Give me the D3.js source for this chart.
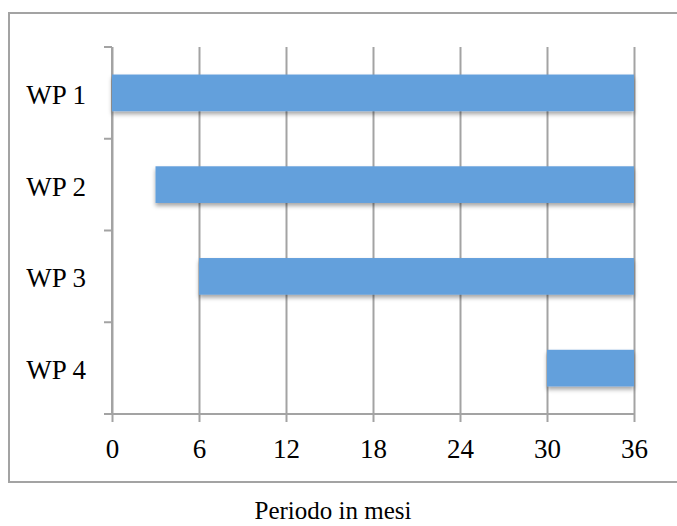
<!DOCTYPE html>
<html>
<head>
<meta charset="utf-8">
<script src="https://cdn.jsdelivr.net/npm/d3@7/dist/d3.min.js"></script>
<style>
  html, body { margin: 0; padding: 0; background: #fff; }
  svg { display: block; }
  text { font-family: "Liberation Serif", "Times New Roman", serif; fill: #000; }
</style>
</head>
<body>
<svg id="chart" width="677" height="526"></svg>
<script>
// Work packages and their start/end month
const categories = ["WP 1", "WP 2", "WP 3", "WP 4"];
const startMonth = [0, 3, 6, 30];
const endMonth = [36, 36, 36, 36];
const xTicks = [0, 6, 12, 18, 24, 30, 36];
const axisTitle = "Periodo in mesi";

const svg = d3.select("#chart");
const W = 677, H = 526;
const plot = { left: 112, right: 634, top: 47, bottom: 414 };
const gridColor = "#a3a3a3";
const barColor = "#64a0dc";

// Drop shadow under the bars
const defs = svg.append("defs");
const f = defs.append("filter").attr("id", "shadow")
  .attr("x", "-5%").attr("y", "-20%").attr("width", "110%").attr("height", "160%");
f.append("feDropShadow").attr("dx", 0).attr("dy", 3).attr("stdDeviation", 2.2)
  .attr("flood-color", "#000").attr("flood-opacity", 0.35);

// Outer frame
svg.append("rect")
  .attr("x", 9).attr("y", 13).attr("width", W + 10).attr("height", 482 - 13)
  .attr("fill", "none").attr("stroke", gridColor).attr("stroke-width", 2);

const x = d3.scaleLinear().domain([0, 36]).range([plot.left, plot.right]);
const y = d3.scaleBand().domain(categories).range([plot.top, plot.bottom]);

// Vertical gridlines + bottom ticks
const xAxis = d3.axisBottom(x).tickValues(xTicks).tickSize(8).tickPadding(17)
  .tickFormat(d3.format("d"));
const gx = svg.append("g").attr("transform", `translate(0,${plot.bottom})`).call(xAxis);
gx.select(".domain").remove();
gx.selectAll(".tick line").attr("stroke", gridColor).attr("stroke-width", 2)
  .attr("y1", -(plot.bottom - plot.top)).attr("y2", 8);
gx.selectAll(".tick text").attr("font-size", 27)
  .attr("font-family", "Liberation Serif, serif").attr("fill", "#000")
  .attr("dy", "0.71em");

// Horizontal baseline, extended a little to the left
svg.append("line")
  .attr("x1", plot.left - 8).attr("x2", plot.right)
  .attr("y1", plot.bottom).attr("y2", plot.bottom)
  .attr("stroke", gridColor).attr("stroke-width", 2);

// Y axis line with ticks at category boundaries
svg.append("line")
  .attr("x1", plot.left).attr("x2", plot.left)
  .attr("y1", plot.top).attr("y2", plot.bottom)
  .attr("stroke", gridColor).attr("stroke-width", 2);
const boundaries = categories.map(c => y(c)).concat([plot.bottom]);
svg.selectAll(".ytick").data(boundaries).enter().append("line")
  .attr("x1", plot.left - 8).attr("x2", plot.left)
  .attr("y1", d => d).attr("y2", d => d)
  .attr("stroke", gridColor).attr("stroke-width", 2);

// Bars
const barH = y.bandwidth() * 0.4;
svg.append("g").selectAll("rect").data(categories).enter().append("rect")
  .attr("x", (d, i) => x(startMonth[i]))
  .attr("width", (d, i) => x(endMonth[i]) - x(startMonth[i]))
  .attr("y", d => y(d) + (y.bandwidth() - barH) / 2)
  .attr("height", barH)
  .attr("fill", barColor)
  .attr("filter", "url(#shadow)");

// Category labels
svg.append("g").selectAll("text").data(categories).enter().append("text")
  .attr("x", 86)
  .attr("y", d => y(d) + y.bandwidth() / 2 + 11)
  .attr("text-anchor", "end")
  .attr("font-size", 27)
  .text(d => d);

// Axis title
svg.append("text")
  .attr("x", 333).attr("y", 519)
  .attr("text-anchor", "middle")
  .attr("font-size", 25)
  .text(axisTitle);
</script>
</body>
</html>
